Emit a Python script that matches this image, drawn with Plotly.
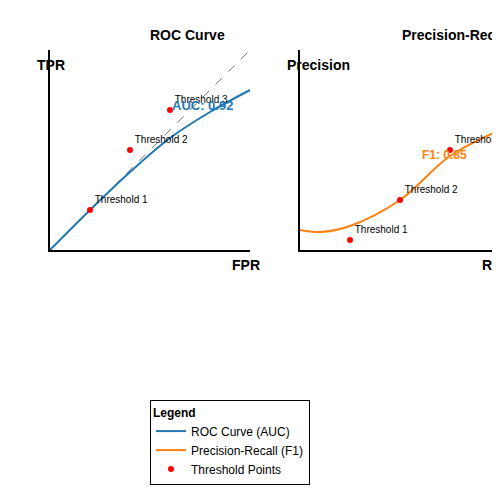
import plotly.graph_objects as go

roc_x = [0, 0.2, 0.4, 0.6, 0.8, 1.0]
roc_y = [0, 0.2, 0.39, 0.56, 0.69, 0.8]
roc_thr_x = [0.2, 0.4, 0.6]
roc_thr_y = [0.2, 0.5, 0.7]

pr_x = [0, 0.1, 0.25, 0.5, 0.75, 1.0]
pr_y = [0.1, 0.09, 0.12, 0.25, 0.47, 0.6]
pr_thr_x = [0.25, 0.5, 0.75]
pr_thr_y = [0.05, 0.25, 0.5]

thr_labels = ["Threshold 1", "Threshold 2", "Threshold 3"]

BLUE = "#1f77b4"
ORANGE = "#ff7f0e"
# page body adds an 8px offset; shift everything back
DX = -0.016
DY = 0.016

fig = go.Figure()
fig.add_trace(go.Scatter(x=[0, 1], y=[0, 1], mode="lines", showlegend=False,
                         line=dict(color="gray", dash="dash", width=1), xaxis="x", yaxis="y"))
fig.add_trace(go.Scatter(x=roc_x, y=roc_y, mode="lines", name="ROC Curve (AUC)",
                         line=dict(color=BLUE, width=2, shape="spline"), xaxis="x", yaxis="y"))
fig.add_trace(go.Scatter(x=pr_x, y=pr_y, mode="lines", name="Precision-Recall (F1)",
                         line=dict(color=ORANGE, width=2, shape="spline"), xaxis="x2", yaxis="y2"))
fig.add_trace(go.Scatter(x=roc_thr_x, y=roc_thr_y, mode="markers+text", name="Threshold Points",
                         marker=dict(color="red", size=6), text=thr_labels,
                         textposition="top right", textfont=dict(size=10, color="black"),
                         xaxis="x", yaxis="y"))
fig.add_trace(go.Scatter(x=pr_thr_x, y=pr_thr_y, mode="markers+text", showlegend=False,
                         marker=dict(color="red", size=6), text=thr_labels,
                         textposition="top right", textfont=dict(size=10, color="black"),
                         xaxis="x2", yaxis="y2"))

ax = dict(range=[0, 1], showline=True, linecolor="black", linewidth=2, showgrid=False,
          zeroline=False, showticklabels=False, ticks="")
fig.update_layout(
    width=500, height=500, margin=dict(l=0, r=0, t=0, b=0),
    paper_bgcolor="white", plot_bgcolor="white",
    font=dict(family="Liberation Sans, Arial", size=12, color="black"),
    xaxis=dict(ax, domain=[0.1 + DX, 0.5 + DX]), yaxis=dict(ax, domain=[0.5 + DY, 0.9 + DY]),
    xaxis2=dict(ax, domain=[0.6 + DX, 1.0 + DX], anchor="y2"),
    yaxis2=dict(ax, domain=[0.5 + DY, 0.9 + DY], anchor="x2"),
    legend=dict(x=0.3 + DX, y=0.2 + DY, xanchor="left", yanchor="top", bordercolor="black",
                borderwidth=1, title=dict(text="<b>Legend</b>", font=dict(size=12)),
                font=dict(size=12), tracegroupgap=0, itemwidth=30),
)

def note(text, x, y, size=14, color="black", anchor="center"):
    fig.add_annotation(text=text, x=x + DX, y=y + DY, xref="paper", yref="paper", showarrow=False,
                       font=dict(size=size, color=color), xanchor=anchor)

note("<b>ROC Curve</b>", 0.374, 0.95)
note("<b>Precision-Recall</b>", 0.8, 0.95, anchor="left")
note("<b>TPR</b>", 0.07, 0.89, anchor="left")
note("<b>FPR</b>", 0.46, 0.47, anchor="left")
note("<b>Precision</b>", 0.57, 0.89, anchor="left")
note("<b>Recall</b>", 0.96, 0.47, anchor="left")
note("<b>AUC: 0.92</b>", 0.34, 0.808, size=13, color=BLUE, anchor="left")
note("<b>F1: 0.85</b>", 0.84, 0.708, size=12, color=ORANGE, anchor="left")

fig.write_html("out.html")
